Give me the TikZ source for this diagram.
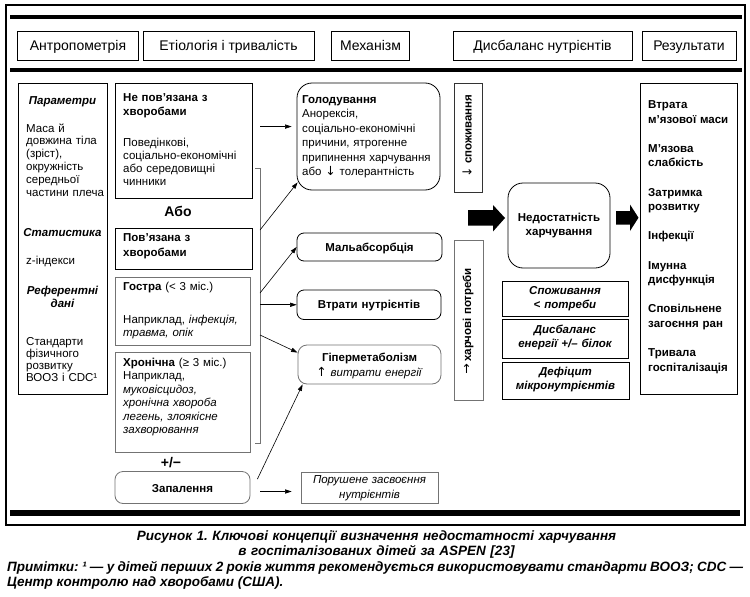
\documentclass[tikz,border=0pt]{standalone}
\usepackage{fontspec}
\setmainfont{Liberation Sans}
\newfontfamily\arrowfont{DejaVu Sans}
\usetikzlibrary{arrows.meta,calc,fit}
\newcommand\myfs[2]{\fontsize{#1}{#2}\selectfont}
\newcommand\myarw[1]{{\arrowfont\mdseries\upshape\fontsize{12.5}{12}\selectfont #1}}
\frenchspacing
\begin{document}
\begin{tikzpicture}[x=1pt,y=-1pt,
  bx/.style={draw=black, line width=0.8pt, inner sep=0pt},
  gbx/.style={draw=black!55, line width=0.8pt, inner sep=0pt},
  hdr/.style={inner sep=0pt, anchor=base, font=\myfs{14}{16}},
  tl/.style={inner sep=0pt, anchor=base west, align=left, text width=#1},
  tl/.default=150pt,
  tc/.style={inner sep=0pt, anchor=base, align=center, text width=#1},
  tc/.default=140pt,
  fnt/.style 2 args={font=\myfs{#1}{#2}},
  bf/.style 2 args={font=\myfs{#1}{#2}\bfseries},
  bi/.style 2 args={font=\myfs{#1}{#2}\bfseries\itshape},
  arr/.style={-{Triangle[length=6.5pt,width=4.2pt]}, line width=0.6pt},
  bar/.style={line width=#1, line cap=butt}
]
\fill[white] (0,0) rectangle (750,597);
\useasboundingbox (0,0) rectangle (750,597);

% frame and bars
\node[draw, line width=1.2pt, inner sep=0pt, fit={(6,5) (745,525)}] (frame) {};
\draw[bar=4pt] (10,17) -- (742,17);
\draw[bar=4pt] (10,70.3) -- (742,70.3);
\draw[bar=6.5pt] (10,513) -- (740,513);

% headers
\node[bx, fit={(17,31) (138,60)}] (h1) {};
\node[hdr] (h1t) at (78,50) {Антропометрія};
\node[bx, fit={(143,31) (314,60)}] (h2) {};
\node[hdr] (h2t) at (228.5,50) {Етіологія і тривалість};
\node[bx, fit={(331,31) (409,60)}] (h3) {};
\node[hdr] (h3t) at (370.5,50) {Механізм};
\node[bx, fit={(453,31) (632,60)}] (h4) {};
\node[hdr] (h4t) at (542.5,50) {Дисбаланс нутрієнтів};
\node[bx, fit={(642,31) (736,60)}] (h5) {};
\node[hdr] (h5t) at (689,50) {Результати};

% anthropometry column
\node[bx, fit={(18,83) (107,394)}] (lp) {};
\node[tc=85pt, bi={11.5}{13.5}] (lp1) at (62.5,104) {Параметри};
\node[tl, fnt={11.5}{12.9}] (lp2) at (26,132) {Маса й\\довжина тіла\\(зріст),\\окружність\\середньої\\частини плеча};
\node[tc=85pt, bi={11.5}{13.5}] (lp3) at (62.5,236) {Статистика};
\node[tl, fnt={11.5}{13}] (lp4) at (26,264) {z-індекси};
\node[tc=85pt, bi={11.5}{13.5}] (lp5) at (62.5,294) {Референтні\\дані};
\node[tl, fnt={11.5}{12}] (lp6) at (26,345) {Стандарти\\фізичного\\розвитку\\ВООЗ і CDC¹};

% aetiology column
\node[bx, fit={(115,83) (252,198)}] (nep) {};
\node[tl, bf={11.5}{14}] (nep1) at (123,101.5) {Не пов'язана з\\хворобами};
\node[tl, fnt={11.5}{13}] (nep2) at (123,146.5) {Поведінкові,\\соціально-економічні\\або середовищні\\чинники};
\node[tc=60pt, bf={14}{16}] (abo) at (178,216) {Або};
\node[bx, fit={(115,228) (252,269)}] (pov) {};
\node[tl, bf={11.5}{15}] (pov1) at (123,241.5) {Пов'язана з\\хворобами};
\node[gbx, fit={(115,277) (250,345)}] (gos) {};
\node[tl, fnt={11.5}{13}] (gos1) at (123,290) {\textbf{Гостра} (< 3 міс.)};
\node[tl, fnt={11.5}{13.4}] (gos2) at (123,323.5) {Наприклад, \textit{інфекція,}\\\textit{травма, опік}};
\node[gbx, fit={(115,352) (250,452)}] (hr) {};
\node[tl, fnt={11.5}{13.4}] (hr1) at (123,366.5) {\textbf{Хронічна} (≥ 3 міс.)\\Наприклад,\\\textit{муковісцидоз,}\\\textit{хронічна хвороба}\\\textit{легень, злоякісне}\\\textit{захворювання}};
\node[tc=60pt, bf={14}{16}] (pm) at (171,467) {+/−};
\node[gbx, rounded corners=8pt, fit={(115,471.5) (250,503.5)}] (zap) {};
\node[tc, bf={11.5}{13}] (zapt) at (182.5,492) {Запалення};

% bracket
\draw[black!55, line width=0.7pt] (255,168) -- (260,168) -- (260,443) -- (255,443);
\coordinate (br1) at (260,230);
\coordinate (br2) at (260,293);
\coordinate (br3) at (260,304.75);
\coordinate (br4) at (260,335);

% mechanism column
\node[bx, rounded corners=15pt, fit={(297,83) (440,190)}] (hol) {};
\node[tl, fnt={11.5}{14.4}] (hol1) at (302,103.5) {\textbf{Голодування}\\Анорексія,\\соціально-економічні\\причини, ятрогенне\\припинення харчування\\або \myarw{↓} толерантність};
\node[bx, rounded corners=7pt, fit={(297,233) (442,261)}] (mal) {};
\node[tc, bf={11.5}{13}] (malt) at (369.5,251) {Мальабсорбція};
\node[bx, rounded corners=7pt, fit={(297,290) (441,319.5)}] (vtr) {};
\node[tc, bf={11.5}{13}] (vtrt) at (369,308.5) {Втрати нутрієнтів};
\node[gbx, rounded corners=9pt, fit={(298,345) (441,384)}] (hyp) {};
\node[tc, fnt={11.5}{15.5}] (hyp1) at (369.5,361) {\textbf{Гіперметаболізм}\\\myarw{↑} \textit{витрати енергії}};
\node[gbx, fit={(301,472) (438,503)}] (por) {};
\node[tc, fnt={11.5}{15.5}] (por1) at (369.5,483) {\textit{Порушене засвоєння}\\\textit{нутрієнтів}};

\draw[arr, shorten <=8pt, shorten >=5pt] ([yshift=-44pt]nep.north east) -- ([yshift=-44pt]hol.north west);
\draw[arr] (br1) -- ([xshift=1pt,yshift=8pt]hol.south west);
\draw[arr] (br2) -- (mal.west);
\draw[arr] (br3) -- (vtr.west);
\draw[arr] (br4) -- ([yshift=-8pt]hyp.north west);
\draw[arr] ([xshift=7pt,yshift=-8pt]zap.north east) -- ([xshift=5pt]hyp.south west);
\draw[arr, shorten <=10pt, shorten >=9pt] ([yshift=-4pt]zap.east) -- ([yshift=-4pt]por.west);

% imbalance column
\node[bx, draw=black!80, fit={(454,83) (482,192)}] (spo) {};
\node[rotate=90, inner sep=0pt, bf={11.5}{13}] (spo1) at (467,136) {\myarw{↓} споживання};
\node[gbx, fit={(454,240) (483,400)}] (pot) {};
\node[rotate=90, inner sep=0pt, bf={11.5}{13}] (pot1) at (467.5,321) {\rotatebox[origin=c]{-90}{\myarw{↑}} харчові потреби};

\node[bx, rounded corners=15pt, fit={(508,183) (610,268)}] (nd) {};
\node[tc=100pt, bf={11.5}{14}] (nd1) at (559,221.5) {Недостатність\\харчування};

\fill (468,210) -- (493,210) -- (493,205) -- (505,218) -- (493,231.5) -- (493,225.5) -- (468,225.5) -- cycle;
\fill (616,211) -- (630,211) -- (630,204.5) -- (638.5,217.7) -- (630,231) -- (630,224.5) -- (616,224.5) -- cycle;

\node[bx, fit={(502,281) (628,316)}] (sb1) {};
\node[tc=120pt, bi={11.5}{14}] (sb1t) at (565,294) {Споживання\\< потреби};
\node[bx, fit={(502,319.5) (628,358.5)}] (sb2) {};
\node[tc=120pt, bi={11.5}{14}] (sb2t) at (565,333.5) {Дисбаланс\\енергії +/– білок};
\node[bx, fit={(502,362.5) (629,399.5)}] (sb3) {};
\node[tc=120pt, bi={11.5}{14}] (sb3t) at (565.5,375) {Дефіцит\\мікронутрієнтів};

% outcomes
\node[bx, fit={(640,83) (737,394)}] (res) {};
\node[tl=95pt, bf={11.5}{14.6}] (res1) at (648,108.5) {Втрата\\м'язової маси\\[14.6pt]М'язова\\слабкість\\[14.6pt]Затримка\\розвитку\\[14.6pt]Інфекції\\[14.6pt]Імунна\\дисфункція\\[14.6pt]Сповільнене\\загоєння ран\\[14.6pt]Тривала\\госпіталізація};

% caption
\node[tc=640pt, bi={13.5}{15}] (cap1) at (376.5,540) {Рисунок 1. Ключові концепції визначення недостатності харчування\\в госпіталізованих дітей за ASPEN [23]};
\node[inner sep=0pt, anchor=base west, text width=736pt, align=justify, bi={13.5}{15}] (cap2) at (7,571) {Примітки: ¹ — у дітей перших 2 років життя рекомендується використовувати стандарти ВООЗ; CDC —\linebreak Центр контролю над хворобами (США).};
\end{tikzpicture}
\end{document}
